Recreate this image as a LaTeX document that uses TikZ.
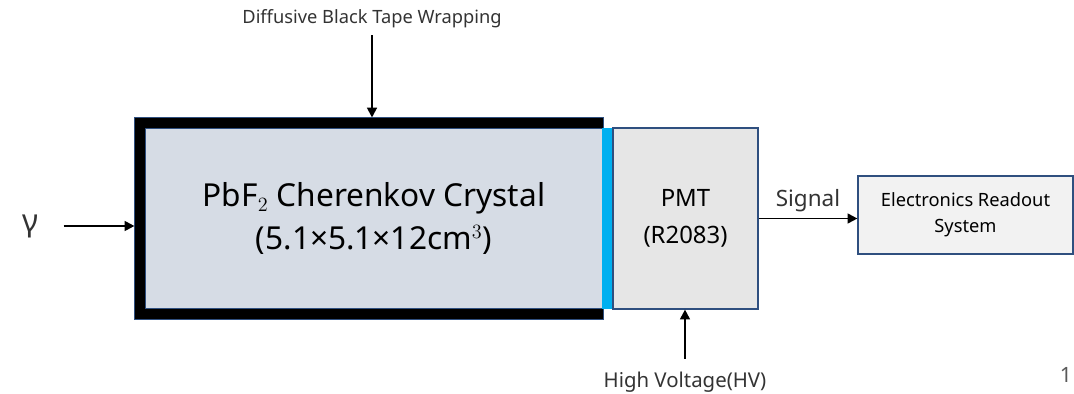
\documentclass[tikz,border=0pt]{standalone}
\usepackage{fontspec}
\setmainfont{Noto Sans}
\usepackage{tikz}
\usetikzlibrary{arrows.meta, calc}
\definecolor{navy}{HTML}{2F4F7F}
\definecolor{crystalfill}{HTML}{D6DCE5}
\definecolor{pmtfill}{HTML}{E6E6E6}
\definecolor{boxfill}{HTML}{F2F2F2}
\definecolor{coupling}{HTML}{00B0F0}
\tikzset{
  wrapbox/.style={draw=navy, line width=0.7pt, fill=black, minimum width=11.7cm,
      minimum height=5.025cm, inner sep=0pt},
  crystal/.style={draw=navy, line width=0.7pt, fill=crystalfill, minimum width=11.4cm,
      minimum height=4.475cm, align=center, inner sep=0pt,
      font=\fontsize{22.5}{30}\selectfont},
  pmtbox/.style={draw=navy, line width=0.8pt, fill=pmtfill, minimum width=3.625cm,
      minimum height=4.525cm, align=center, inner sep=0pt,
      font=\fontsize{17}{26}\selectfont},
  readoutbox/.style={draw=navy, line width=0.8pt, fill=boxfill, minimum width=5.375cm,
      minimum height=1.95cm, align=center, inner sep=0pt,
      font=\fontsize{13}{18.5}\selectfont},
  feed/.style={line width=1.4pt, -{Triangle[length=7pt, width=7pt]}},
  label/.style={inner sep=0pt, text=black!80},
}

\begin{document}
\begin{tikzpicture}[x=0.025cm, y=-0.025cm]
  \useasboundingbox (0,0) rectangle (1074,394);
  % black tape wrapping
  \node[wrapbox] (wrap) at (369,218.5) {};
  \node[crystal] (crystal) at (374,218.5)
    {$\mathrm{PbF}_2$ Cherenkov Crystal\\ (5.1×5.1×12$\mathrm{cm}^3$)};
  % optical coupling
  \fill[coupling] (602,128) rectangle (613,309);
  \node[pmtbox] (pmt) at (685.5,218.5) {PMT\\ (R2083)};
  \node[readoutbox] (readout) at (965.5,215) {Electronics Readout\\ System};
  \node[label, font=\fontsize{22}{26}\selectfont] (gamma) at (30,226) {γ};
  \node[label, font=\fontsize{13}{15}\selectfont] (tape) at (372,19) {Diffusive Black Tape Wrapping};
  \node[label, font=\fontsize{14.5}{17}\selectfont] (hv) at (685,382) {High Voltage(HV)};
  \node[label, font=\fontsize{15}{18}\selectfont, text=black!65] (page) at (1066,375) {1};
  \draw[feed, shorten <=18pt] (gamma.east) -- (gamma.east -| wrap.west);
  \draw[feed, shorten <=5pt] (tape.south) -- (tape.south |- wrap.north);
  \draw[feed, shorten <=9pt] (hv.north) -- (hv.north |- pmt.south);
  \draw[feed] (pmt.east) -- (pmt.east -| readout.west)
    node[midway, above=4pt, label, font=\fontsize{16}{18}\selectfont] {Signal};
\end{tikzpicture}
\end{document}
